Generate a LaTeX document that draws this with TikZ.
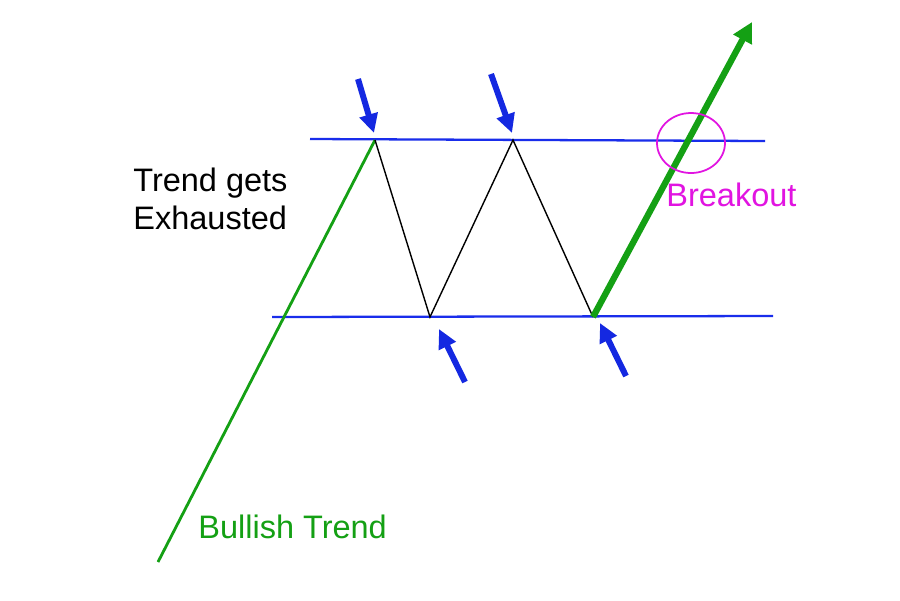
\documentclass[tikz,border=0pt]{standalone}
\usepackage{fontspec}
\setmainfont{Liberation Sans}
\usetikzlibrary{arrows.meta,positioning}

\definecolor{linieblue}{RGB}{25,45,235}
\definecolor{arrowblue}{RGB}{20,40,225}
\definecolor{trendgreen}{RGB}{20,160,20}
\definecolor{breakmag}{RGB}{225,20,225}

\begin{document}
\begin{tikzpicture}[
    x=0.02cm,
    y=-0.02cm,
    font=\fontsize{18.5}{22}\selectfont,
    level/.style={linieblue, line width=1.3pt},
    zigzag/.style={black, line width=0.8pt},
    marker/.style={arrowblue, line width=3.4pt,
        -{Triangle[length=0.38cm,width=0.36cm]}},
    label/.style={inner sep=0pt, align=left}
]

% Tlo i granice obrazka
\fill[white]
    (0,0)
    rectangle
    (900,600);

% Punkty formacji
\coordinate (start) at (158,562);
\coordinate (peakA) at (375,140);
\coordinate (lowA) at (430,317);
\coordinate (peakB) at (513,140);
\coordinate (lowB) at (593,317);
\coordinate (target) at (752,22);

% Linie oporu i wsparcia
\coordinate (resL) at (310,139);
\coordinate (resR) at (765,141);
\coordinate (supL) at (272,317);
\coordinate (supR) at (773,316);

\draw[level]
    (resL) -- (resR);

\draw[level]
    (supL) -- (supR);

% Trend wzrostowy
\draw[trendgreen, line width=1.6pt]
    (start) -- (peakA);

% Podwojny szczyt
\draw[zigzag]
    (peakA)
    --
    (lowA)
    --
    (peakB)
    --
    (lowB);

% Wybicie
\draw[trendgreen, line width=3.6pt,
      -{Triangle[length=0.4cm,width=0.4cm]}]
    (lowB) -- (target);

\draw[breakmag, line width=1pt]
    (691,143) ellipse [x radius=34, y radius=30];

% Strzalki
\coordinate (tailA) at (358,79);
\coordinate (tipA) at (374,133);
\coordinate (tailB) at (491,74);
\coordinate (tipB) at (512,133);
\coordinate (tailC) at (465,382);
\coordinate (tipC) at (439,329);
\coordinate (tailD) at (626,376);
\coordinate (tipD) at (600,323);

\draw[marker] (tailA) -- (tipA);
\draw[marker] (tailB) -- (tipB);
\draw[marker] (tailC) -- (tipC);
\draw[marker] (tailD) -- (tipD);

% Opisy
\node[label, anchor=west] (exhausted) at (133,199)
    {Trend gets\\Exhausted};

\node[label, anchor=west, text=breakmag] (breakout) at (666,195)
    {Breakout};

\node[label, anchor=west, text=trendgreen] (bullish) at (198,527)
    {Bullish Trend};

\end{tikzpicture}
\end{document}
